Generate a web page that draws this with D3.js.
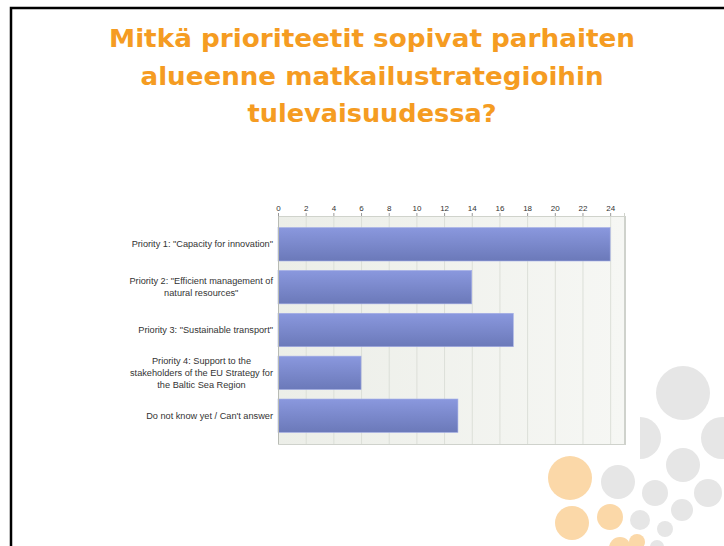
<!DOCTYPE html>
<html>
<head>
<meta charset="utf-8">
<script src="https://cdn.jsdelivr.net/npm/d3@7"></script>
<style>
body { margin: 0; background: #fff; }
svg { display: block; }
</style>
</head>
<body>
<script>
var width = 724;
var height = 546;

// chart data
var categories = [
    'Priority 1: "Capacity for innovation"',
    'Priority 2: "Efficient management of|natural resources"',
    'Priority 3: "Sustainable transport"',
    'Priority 4: Support to the|stakeholders of the EU Strategy for|the Baltic Sea Region',
    "Do not know yet / Can't answer"];
var counts = [24, 14, 17, 6, 13];
var xTicks = [0, 2, 4, 6, 8, 10, 12, 14, 16, 18, 20, 22, 24];
var titleLines = [
    "Mitkä prioriteetit sopivat parhaiten",
    "alueenne matkailustrategioihin",
    "tulevaisuudessa?"];

var plot = {left: 278, right: 624, top: 216, bottom: 444};

var svg = d3.select("body")
    .append("svg")
    .attr("width", width)
    .attr("height", height);

var defs = svg.append("defs");

var bg = defs.append("linearGradient").attr("id", "plotBg")
    .attr("x1", "0").attr("x2", "1").attr("y1", "0").attr("y2", "0");
bg.append("stop").attr("offset", "0%").attr("stop-color", "#eceee8");
bg.append("stop").attr("offset", "100%").attr("stop-color", "#f6f7f4");

var barGrad = defs.append("linearGradient").attr("id", "barGrad")
    .attr("x1", "0").attr("x2", "0").attr("y1", "0").attr("y2", "1");
barGrad.append("stop").attr("offset", "0%").attr("stop-color", "#8a98de");
barGrad.append("stop").attr("offset", "100%").attr("stop-color", "#6b79b9");

// decorative dots, bottom right of the slide
var dots = [
    {x: 683, y: 393, r: 27, c: "#e6e6e6"},
    {x: 722, y: 438, r: 21, c: "#e6e6e6"},
    {x: 683, y: 465, r: 17, c: "#e6e6e6"},
    {x: 618, y: 482, r: 17, c: "#e6e6e6"},
    {x: 655, y: 493, r: 13, c: "#e6e6e6"},
    {x: 708, y: 493, r: 14, c: "#e6e6e6"},
    {x: 640, y: 520, r: 10, c: "#e6e6e6"},
    {x: 682, y: 510, r: 11, c: "#e6e6e6"},
    {x: 665, y: 529, r: 8, c: "#e6e6e6"},
    {x: 657, y: 547, r: 7, c: "#e6e6e6"},
    {x: 570, y: 478, r: 22, c: "#fbd8a8"},
    {x: 572, y: 523, r: 17, c: "#fbd8a8"},
    {x: 610, y: 517, r: 13, c: "#fbd8a8"},
    {x: 620, y: 548, r: 11, c: "#fbd8a8"},
    {x: 637, y: 542, r: 8, c: "#fbd8a8"}];

svg.append("g").selectAll("circle")
    .data(dots)
    .enter()
    .append("circle")
    .attr("cx", function(d) { return d.x; })
    .attr("cy", function(d) { return d.y; })
    .attr("r", function(d) { return d.r; })
    .attr("fill", function(d) { return d.c; });

// half disc
svg.append("path")
    .attr("d", d3.arc()({innerRadius: 0, outerRadius: 21, startAngle: 0, endAngle: Math.PI}))
    .attr("transform", "translate(640,438)")
    .attr("fill", "#e6e6e6");

// slide frame
svg.append("path")
    .attr("d", "M11,546 L11,8 L724,8")
    .attr("fill", "none")
    .attr("stroke", "#000")
    .attr("stroke-width", 2.5);

// title
var titleLen = [526, 463, 249];
svg.append("g").selectAll("text")
    .data(titleLines)
    .enter()
    .append("text")
    .attr("x", 372)
    .attr("y", function(d, i) { return 47 + i * 37.5; })
    .attr("text-anchor", "middle")
    .attr("textLength", function(d, i) { return titleLen[i]; })
    .attr("lengthAdjust", "spacingAndGlyphs")
    .style("font-family", "'DejaVu Sans Condensed', 'DejaVu Sans', sans-serif")
    .style("font-weight", "bold")
    .style("font-size", "24px")
    .style("fill", "#f59c22")
    .text(function(d) { return d; });

var xScale = d3.scaleLinear()
    .domain([0, 25])
    .range([plot.left, plot.right]);

var yScale = d3.scaleBand()
    .domain(categories)
    .range([plot.top, plot.bottom])
    .paddingInner(0.22)
    .paddingOuter(0.27);

var chart = svg.append("g");

chart.append("rect")
    .attr("x", plot.left)
    .attr("y", plot.top)
    .attr("width", plot.right - plot.left)
    .attr("height", plot.bottom - plot.top)
    .attr("fill", "url(#plotBg)");

// vertical grid lines
chart.append("g").selectAll("line")
    .data(xTicks.slice(1))
    .enter()
    .append("line")
    .attr("x1", function(d) { return xScale(d) + 0.5; })
    .attr("x2", function(d) { return xScale(d) + 0.5; })
    .attr("y1", plot.top)
    .attr("y2", plot.bottom)
    .attr("stroke", "#dcdfd8");

// top axis
var xAxis = d3.axisTop(xScale)
    .tickValues(xTicks)
    .tickSize(3)
    .tickPadding(2);

var axisG = chart.append("g")
    .attr("transform", "translate(0," + plot.top + ")")
    .call(xAxis);
axisG.select(".domain").attr("stroke", "#d0d3cc");
axisG.selectAll(".tick line").attr("stroke", "#999");
axisG.selectAll("text")
    .style("font-family", "'Liberation Sans', Arial, sans-serif")
    .style("font-size", "8px")
    .style("fill", "#333");

// bars
chart.append("g").selectAll("rect")
    .data(counts)
    .enter()
    .append("rect")
    .attr("x", plot.left)
    .attr("y", function(d, i) { return yScale(categories[i]); })
    .attr("width", function(d) { return xScale(d) - plot.left; })
    .attr("height", yScale.bandwidth())
    .attr("fill", "url(#barGrad)")
    .attr("stroke", "#a4aee6")
    .attr("stroke-width", 0.6);

// frame lines of the plot
chart.append("line")
    .attr("x1", plot.left + 0.5).attr("x2", plot.left + 0.5)
    .attr("y1", plot.top).attr("y2", plot.bottom + 1)
    .attr("stroke", "#b8bbb4");
chart.append("line")
    .attr("x1", plot.left).attr("x2", plot.right + 2)
    .attr("y1", plot.bottom + 0.5).attr("y2", plot.bottom + 0.5)
    .attr("stroke", "#cfd2cc");
chart.append("line")
    .attr("x1", plot.right + 1).attr("x2", plot.right + 1)
    .attr("y1", plot.top).attr("y2", plot.bottom + 1)
    .attr("stroke", "#cfd2cc")
    .attr("stroke-width", 2);

// category labels: block right aligned, lines centred inside it
var labelRight = 273;
var lineH = 12;
categories.forEach(function(cat, i) {
    var lines = cat.split("|");
    var cy = yScale(cat) + yScale.bandwidth() / 2;
    var g = chart.append("g");
    var texts = g.selectAll("text")
        .data(lines)
        .enter()
        .append("text")
        .attr("y", function(d, j) { return cy + (j - (lines.length - 1) / 2) * lineH + 3; })
        .attr("text-anchor", "middle")
        .style("font-family", "'Liberation Sans', Arial, sans-serif")
        .style("font-size", "9.2px")
        .style("fill", "#333")
        .text(function(d) { return d; });
    var w = 0;
    texts.each(function() { w = Math.max(w, this.getComputedTextLength()); });
    texts.attr("x", labelRight - w / 2);
});
</script>
</body>
</html>
